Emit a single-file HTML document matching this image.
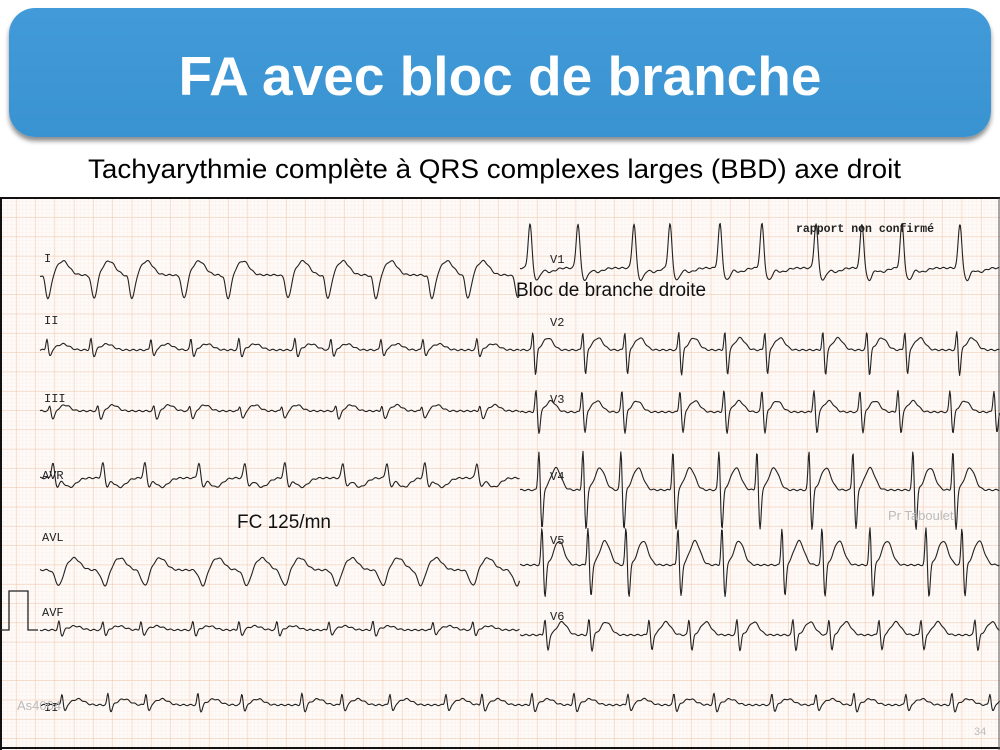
<!DOCTYPE html>
<html><head><meta charset="utf-8">
<style>
html,body{margin:0;padding:0;background:#fff;}
body{width:1000px;height:750px;position:relative;overflow:hidden;font-family:"Liberation Sans",sans-serif;}
#bar{position:absolute;left:9px;top:8px;width:982px;height:129px;border-radius:26px;background:linear-gradient(#429bd8,#3a93d1);box-shadow:0 4px 5px rgba(0,0,0,0.45);}
#title{position:absolute;left:0;top:41px;width:1000px;text-align:center;color:#fff;font-weight:bold;font-size:55px;line-height:70px;}
#sub{position:absolute;left:88px;top:153px;white-space:nowrap;color:#000;font-size:27px;line-height:32px;transform-origin:0 0;transform:scaleX(1.03);}
svg{position:absolute;left:0;top:0;}
</style></head><body>
<div id="bar"></div>
<div id="title">FA avec bloc de branche</div>
<div id="sub">Tachyarythmie complète à QRS complexes larges (BBD) axe droit</div>
<svg id="ecg" width="1000" height="750" viewBox="0 0 1000 750">
<defs>
<pattern id="sm" width="3.86" height="3.86" patternUnits="userSpaceOnUse" x="0" y="198">
<path d="M3.86 0V3.86M0 3.86H3.86" stroke="#f8e6dc" stroke-width="0.5" fill="none"/>
</pattern>
<pattern id="lg" width="19.3" height="19.3" patternUnits="userSpaceOnUse" x="16" y="198">
<path d="M0 0V19.3M0 0H19.3" stroke="#f1c7ab" stroke-width="1" fill="none"/>
</pattern>
</defs>
<rect x="0" y="198" width="1000" height="552" fill="#fefaf8"/>
<rect x="0" y="198" width="1000" height="552" fill="url(#sm)"/>
<rect x="0" y="198" width="1000" height="552" fill="url(#lg)"/>
<line x1="0" y1="198" x2="1000" y2="198" stroke="#111" stroke-width="2"/>
<line x1="1" y1="198" x2="1" y2="750" stroke="#111" stroke-width="2"/>
<line x1="0" y1="748" x2="1000" y2="748" stroke="#111" stroke-width="2"/>
<line x1="999" y1="198" x2="999" y2="750" stroke="#555" stroke-width="1"/>
<path d="M0 630H9V591H28V630H38" stroke="#222" stroke-width="1.3" fill="none"/>
<g id="traces" stroke="#222" stroke-width="1.1" fill="none" stroke-linejoin="round"></g>
<g font-family="Liberation Mono,monospace" font-size="12" fill="#222">
<text x="44" y="262">I</text><text x="44" y="324">II</text><text x="44" y="402">III</text>
<text x="42" y="479">AVR</text><text x="42" y="541">AVL</text><text x="42" y="616">AVF</text><text x="44" y="711">II</text>
<text x="550" y="263">V1</text><text x="550" y="326">V2</text><text x="550" y="403">V3</text>
<text x="550" y="480">V4</text><text x="550" y="544">V5</text><text x="550" y="620">V6</text>
<text x="796" y="232" font-size="11.5" font-weight="bold">rapport non confirmé</text>
</g>
<text x="516" y="296" font-size="19" fill="#111">Bloc de branche droite</text>
<text x="237" y="528" font-size="19" fill="#111">FC 125/mn</text>
<text x="888" y="520" font-size="13" fill="#bbb">Pr Taboulet</text>
<text x="17" y="710" font-size="13" fill="#bbb">As4004</text>
<text x="974" y="735" font-size="11" fill="#bbb">34</text>
</svg>
<script>
(function(){
var rr=[46,38,52,44,60,40,48,56,36,50,42,54,46,40,58,44,38,52];
function beats(x0,x1,off){var a=[],x=x0+off,i=off%rr.length;while(x<x1){a.push(x);x+=rr[i%rr.length];i++;}return a;}
var T={
I:[[0,1.5,5],[4,3,-24],[19,6,14]],
II:[[0,1,12],[3,1.5,-7],[16,6,6]],
III:[[0,1,7],[3,2,-8],[15,5,6]],
AVR:[[0,1.5,16],[4,2,-8],[17,6,-9]],
AVL:[[3,3.5,-16],[18,6,12]],
AVF:[[0,1,9],[3,1.5,-6],[16,6,4]],
V1:[[0,1.8,45],[7,3,-12],[20,5,-4]],
V2:[[0,1,20],[2.5,1.2,-26],[15,5,12]],
V3:[[0,1,22],[3,1.2,-22],[15,5,11]],
V4:[[0,1,40],[3,1.2,-40],[17,5,22]],
V5:[[0,1,38],[3,1.2,-32],[17,5,24]],
V6:[[0,1,16],[3,1.2,-16],[17,5,13]]
};
var rows=[
['I',40,520,275,0],['II',40,520,350,1],['III',40,520,411,2],['AVR',40,520,478,3],['AVL',40,520,570,4],['AVF',40,520,630,5],['II',40,1000,705,6],
['V1',520,1000,268,2],['V2',520,1000,350,3],['V3',520,1000,412,4],['V4',520,1000,490,5],['V5',520,1000,565,6],['V6',520,1000,635,7]];
var g=document.getElementById('traces'),ns='http://www.w3.org/2000/svg';
rows.forEach(function(r,ri){
var tp=T[r[0]],bs=beats(r[1]+4,r[2]-2,r[4]*3),d='';
for(var x=r[1];x<=r[2];x+=0.7){
var y=0;
bs.forEach(function(b){var t=x-b;if(t<-8||t>40)return;tp.forEach(function(c){var u=(t-c[0])/c[1];y+=c[2]*Math.exp(-u*u/2);});});
y+=Math.sin(x*0.9+ri)*0.7;
d+=(d?'L':'M')+x.toFixed(1)+' '+(r[3]-y).toFixed(1);
}
var p=document.createElementNS(ns,'path');p.setAttribute('d',d);g.appendChild(p);
});
})();
</script>
</body></html>
